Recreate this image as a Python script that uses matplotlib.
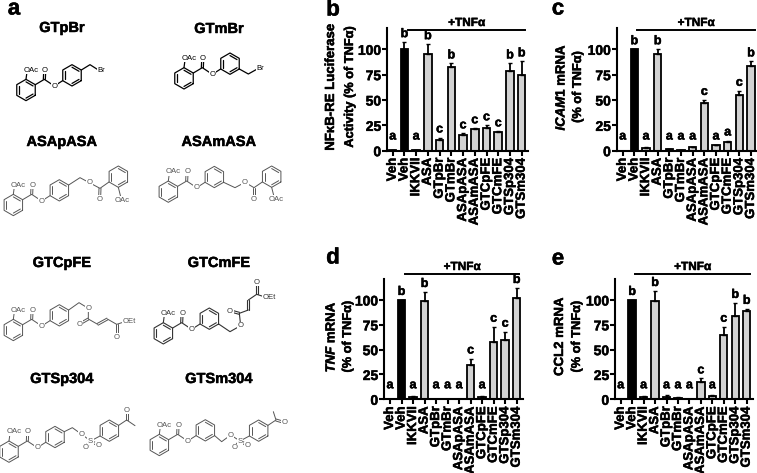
## Four TNFa inhibition bar panels plus the compound structures of panel a.
import numpy as np
import matplotlib
matplotlib.use("Agg")
import matplotlib.pyplot as plt
import matplotlib.patheffects as pe
from matplotlib.text import Text

plt.rcParams['font.family'] = ['Liberation Sans', 'DejaVu Sans']
plt.rcParams['font.weight'] = 'bold'
plt.rcParams['mathtext.fontset'] = 'custom'
plt.rcParams['mathtext.it'] = 'Liberation Sans:italic:bold'
plt.rcParams['mathtext.rm'] = 'Liberation Sans:bold'

W, H = 757, 473

categories = ['Veh', 'Veh', 'IKKVII', 'ASA', 'GTpBr', 'GTmBr', 'ASApASA', 'ASAmASA',
              'GTCpFE', 'GTCmFE', 'GTSp304', 'GTSm304']
yticks = [0, 25, 50, 75, 100]

vals_b = [1, 100, 1, 95, 11, 83, 15, 21, 22, 18, 79, 75]
errs_b = [0, 7, 0, 10, 2, 3, 2, 1, 3, 1, 7, 13]
sig_b = list('ababcbccccbb')

vals_c = [0, 100, 3, 95, 2, 1, 4, 47, 6, 9, 55, 84]
errs_c = [0, 0, 1, 5, 0, 0, 0, 3, 0, 1, 4, 4]
sig_c = list('ababaaacaacb')

vals_d = [0, 100, 2, 99, 0, 0, 0, 35, 2, 58, 60, 102]
errs_d = [0, 0, 1, 9, 0, 0, 0, 6, 1, 15, 8, 10]
sig_d = list('ababaaacaccb')

vals_e = [0, 100, 2, 99, 2, 1, 0.5, 17, 3, 65, 84, 89]
errs_e = [0, 0, 1, 10, 2, 1, 0, 4, 1, 8, 13, 2]
sig_e = list('ababaaacacbb')

fig = plt.figure(figsize=(W / 100, H / 100), dpi=100)


def panel(vals, errs, sig, spine_x, first, last, y0, y100, bar_x0, bar_x1, bar_y, lab1, lab2, lab_x1, lab_x2):
    step = (last - first) / 11.0
    right = last + 6
    per = (y0 - y100) / 100.0
    top = y100 - 21 * per
    ax = fig.add_axes([spine_x / W, 1 - y0 / H, (right - spine_x) / W, (y0 - top) / H])
    ax.patch.set_alpha(0)
    x = np.arange(len(vals))
    colors = ['white', 'black'] + ['#d2d2d2'] * 10
    ax.bar(x, vals, width=0.64, color=colors, edgecolor='black', linewidth=1.3)
    ax.errorbar(x, vals, yerr=[np.zeros(len(x)), errs], fmt='none', ecolor='black', elinewidth=1.3,
                capsize=1.5, capthick=1.0)
    ax.set_xlim(-(first - spine_x) / step, 11 + 6 / step)
    ax.set_ylim(0, 121)
    for s in ['top', 'right']:
        ax.spines[s].set_visible(False)
    for s in ['left', 'bottom']:
        ax.spines[s].set_linewidth(1.5)
    ax.set_yticks(yticks)
    ax.set_xticks(x)
    ax.set_xticklabels(categories, rotation=90, fontsize=9.5, fontweight='bold')
    ax.tick_params(axis='y', labelsize=10, width=1.5, length=3.4, pad=0.8)
    ax.tick_params(axis='x', width=1.5, length=3.5, pad=1.5)
    for i in x:
        # letters on empty bars still sit clear of the axis
        ax.annotate(sig[i], (i, max(vals[i] + errs[i], 6)), xytext=(0, 1.5), textcoords='offset points',
                    ha='center', va='bottom', fontsize=9, fontweight='bold')
    # bar over the TNFa treated groups
    fig.add_artist(plt.Line2D([bar_x0 / W, bar_x1 / W], [1 - bar_y / H] * 2, color='black', lw=1.4))
    fig.text((bar_x0 + bar_x1) / 2 / W, 1 - (bar_y - 1) / H, '+TNFα', ha='center', va='bottom', fontsize=8.5)
    mid = (y0 + y100) / 2 - 13
    fig.text(lab_x1 / W, 1 - mid / H, lab1, rotation=90, ha='center', va='center', fontsize=9.5)
    fig.text(lab_x2 / W, 1 - mid / H, lab2, rotation=90, ha='center', va='center', fontsize=9.2)


panel(vals_b, errs_b, sig_b, 387, 392.7, 521.7, 150.7, 49.3, 408, 525, 30,
      'NFκB-RE Luciferase', 'Activity (% of TNFα)', 331, 350)
panel(vals_c, errs_c, sig_c, 616.7, 622.7, 751, 150.7, 49.3, 637, 755, 30,
      r'$\mathit{ICAM1}$ mRNA', '(% of TNFα)', 561, 578)
panel(vals_d, errs_d, sig_d, 384, 390, 516.7, 399.3, 300, 405, 519, 274,
      r'$\mathit{TNF}$ mRNA', '(% of TNFα)', 331, 348)
panel(vals_e, errs_e, sig_e, 615, 620.7, 746.7, 399.3, 300, 635, 750, 274,
      'CCL2 mRNA', '(% of TNFα)', 560, 577)

# panel letters
for letter, px, py in [('a', 14, 9), ('b', 333, 10), ('c', 558, 9), ('d', 333, 258), ('e', 558, 259)]:
    fig.text(px / W, 1 - py / H, letter, ha='center', va='center', fontsize=16)

# compound names
names_left = [('GTpBr', 28), ('ASApASA', 142), ('GTCpFE', 263), ('GTSp304', 379)]
names_right = [('GTmBr', 29), ('ASAmASA', 142), ('GTCmFE', 263), ('GTSm304', 379)]
for n, y in names_left:
    fig.text(62 / W, 1 - y / H, n, ha='center', va='center', fontsize=10.5)
for n, y in names_right:
    fig.text(219 / W, 1 - y / H, n, ha='center', va='center', fontsize=10.5)

# the reference type is heavier than Liberation bold
for t in fig.findobj(Text):
    t.set_path_effects([pe.withStroke(linewidth=0.35, foreground='black')])

# structures, drawn in 3x pixel coordinates
chem = fig.add_axes([0, 0, 1, 1])
chem.set_xlim(0, W * 3)
chem.set_ylim(H * 3, 0)
chem.axis('off')
chem.patch.set_alpha(0)


def line(pts, c, lw):
    pts = np.array(pts, dtype=float)
    chem.plot(pts[:, 0], pts[:, 1], color=c, lw=lw, solid_capstyle='round')


def dbl(a, b, c, lw):
    a, b = np.array(a, dtype=float), np.array(b, dtype=float)
    n = np.array([-(b - a)[1], (b - a)[0]])
    n = n / np.hypot(*n) * 3
    line([a + n, b + n], c, lw)
    line([a - n, b - n], c, lw)


def lab(x, y, s, c):
    chem.text(x, y, s, ha='center', va='center', fontsize=5.6, color=c, fontweight='normal',
              bbox=dict(fc='white', ec='none', pad=0.4), zorder=5)


def ring(cx, cy, c, lw, r=32):
    ang = np.radians(np.arange(30, 420, 60))
    vx, vy = cx + r * np.cos(ang), cy + r * np.sin(ang)
    line(np.column_stack([vx, vy]), c, lw)
    for i in [0, 2, 4]:
        mx = cx + 0.76 * r * np.cos(ang[i:i + 2])
        my = cy + 0.76 * r * np.sin(ang[i:i + 2])
        line(np.column_stack([mx, my]), c, lw)


def aspirin(cx, cy, c, lw):
    # acetylsalicylate ring, ester and the central phenyl
    ring(cx, cy, c, lw)
    line([(cx, cy - 32), (cx + 3, cy - 55)], c, lw)
    lab(cx + 15, cy - 60, 'OAc', c)
    line([(cx + 28, cy - 16), (cx + 55, cy - 32), (cx + 85, cy - 12), (cx + 110, cy - 28)], c, lw)
    dbl((cx + 55, cy - 32), (cx + 56, cy - 54), c, lw)
    lab(cx + 57, cy - 60, 'O', c)
    lab(cx + 85, cy - 12, 'O', c)
    ring(cx + 138, cy - 44, c, lw)


GR = '#555555'
DK = '#333333'
# GTpBr
aspirin(78, 270, 'black', 0.9)
line([(244, 210), (270, 194), (295, 210)], 'black', 0.9)
lab(305, 212, 'Br', 'black')
# GTmBr
aspirin(552, 235, 'black', 0.9)
line([(718, 207), (745, 222), (770, 208)], 'black', 0.9)
lab(780, 207, 'Br', 'black')
# ASApASA
aspirin(40, 615, GR, 0.7)
line([(206, 555), (240, 533), (268, 548), (300, 565), (327, 546)], GR, 0.7)
dbl((300, 565), (299, 590), GR, 0.7)
lab(268, 548, 'O', GR)
lab(298, 598, 'O', GR)
ring(355, 530, GR, 0.7)
line([(355, 562), (362, 590)], GR, 0.7)
lab(367, 600, 'OAc', GR)
# ASAmASA
aspirin(505, 575, GR, 0.7)
line([(671, 547), (705, 563), (735, 547), (762, 563), (787, 546)], GR, 0.7)
dbl((762, 563), (762, 590), GR, 0.7)
lab(735, 547, 'O', GR)
lab(762, 597, 'O', GR)
ring(815, 530, GR, 0.7)
line([(815, 562), (822, 590)], GR, 0.7)
lab(827, 598, 'OAc', GR)
# GTCpFE
by = 235 * 3
aspirin(40, by + 285, GR, 0.7)
line([(206, by + 225), (237, by + 203), (265, by + 220), (265, by + 252), (293, by + 268)], GR, 0.7)
dbl((265, by + 252), (244, by + 264), GR, 0.7)
dbl((293, by + 268), (322, by + 252), GR, 0.7)
line([(322, by + 252), (350, by + 268), (375, by + 260)], GR, 0.7)
dbl((350, by + 268), (350, by + 298), GR, 0.7)
lab(265, by + 220, 'O', GR)
lab(238, by + 267, 'O', GR)
lab(350, by + 306, 'O', GR)
lab(387, by + 258, 'OEt', GR)
# GTCmFE
aspirin(490, by + 295, DK, 0.8)
line([(656, by + 267), (690, by + 290), (722, by + 272), (718, by + 235), (745, by + 225)], DK, 0.8)
dbl((718, by + 235), (696, by + 229), DK, 0.8)
dbl((745, by + 225), (745, by + 195), DK, 0.8)
line([(745, by + 195), (770, by + 178), (795, by + 186)], DK, 0.8)
dbl((770, by + 178), (770, by + 150), DK, 0.8)
lab(722, by + 272, 'O', DK)
lab(690, by + 228, 'O', DK)
lab(770, by + 142, 'O', DK)
lab(808, by + 188, 'OEt', DK)
# GTSp304
aspirin(27, by + 650, GR, 0.7)
line([(193, by + 590), (217, by + 578), (245, by + 598), (272, by + 618), (300, by + 603)], GR, 0.7)
dbl((272, by + 618), (260, by + 633), GR, 0.7)
dbl((272, by + 618), (290, by + 628), GR, 0.7)
lab(245, by + 598, 'O', GR)
lab(272, by + 618, 'S', GR)
lab(257, by + 638, 'O', GR)
lab(295, by + 632, 'O', GR)
ring(328, by + 587, GR, 0.7)
line([(356, by + 571), (380, by + 555), (405, by + 572)], GR, 0.7)
dbl((380, by + 555), (380, by + 532), GR, 0.7)
lab(380, by + 525, 'O', GR)
# GTSm304
aspirin(478, by + 630, GR, 0.7)
line([(644, by + 602), (665, by + 620), (692, by + 600), (720, by + 618), (748, by + 603)], GR, 0.7)
dbl((720, by + 618), (708, by + 633), GR, 0.7)
dbl((720, by + 618), (737, by + 628), GR, 0.7)
lab(692, by + 600, 'O', GR)
lab(720, by + 618, 'S', GR)
lab(705, by + 638, 'O', GR)
lab(742, by + 632, 'O', GR)
ring(776, by + 587, GR, 0.7)
line([(804, by + 571), (828, by + 555), (820, by + 530)], GR, 0.7)
dbl((828, by + 555), (848, by + 561), GR, 0.7)
lab(855, by + 563, 'O', GR)

fig.savefig('out.png', dpi=100)
